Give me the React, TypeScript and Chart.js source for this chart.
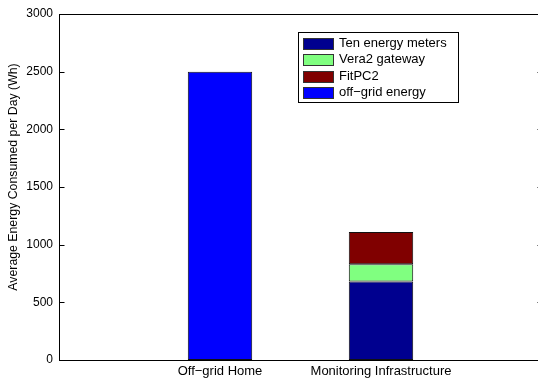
import React, { useEffect, useRef } from "react";
import { Chart, registerables } from "chart.js";

Chart.register(...registerables);

const categories = ["", "Off\u2212grid Home", "Monitoring Infrastructure", ""];
const tenEnergyMeters = [null, null, 680, null];
const vera2Gateway = [null, null, 150, null];
const fitPC2 = [null, null, 280, null];
const offGridEnergy = [null, 2500, null, null];
const yTicks = [0, 500, 1000, 1500, 2000, 2500, 3000];
const yTitle = "Average Energy Consumed per Day (Wh)";

const seriesNames = ["Ten energy meters", "Vera2 gateway", "FitPC2", "off\u2212grid energy"];
const seriesColors = ["#00008F", "#80FF80", "#800000", "#0000FF"];

const FONT = "'Liberation Sans', Arial, Helvetica, sans-serif";

const framePlugin = {
  id: "frame",
  afterDraw(chart: any) {
    const { ctx, chartArea } = chart;
    ctx.save();
    ctx.strokeStyle = "#000";
    ctx.lineWidth = 1;
    const l = Math.round(chartArea.left) + 0.5;
    const t = Math.round(chartArea.top) + 0.5;
    const r = Math.round(chartArea.right) + 0.5;
    const b = Math.round(chartArea.bottom) + 0.5;
    ctx.strokeRect(l, t, r - l, b - t);
    const ys = chart.scales.y;
    yTicks.forEach((v) => {
      const py = Math.round(ys.getPixelForValue(v)) + 0.5;
      ctx.beginPath();
      ctx.moveTo(l, py);
      ctx.lineTo(l + 5, py);
      ctx.moveTo(r, py);
      ctx.lineTo(r - 5, py);
      ctx.stroke();
    });
    // y axis title
    ctx.save();
    ctx.translate(14, 177);
    ctx.rotate(-Math.PI / 2);
    ctx.font = "12.3px " + FONT;
    ctx.fillStyle = "#000";
    ctx.textAlign = "center";
    ctx.textBaseline = "middle";
    ctx.fillText(yTitle, 0, 0);
    ctx.restore();
    // legend
    const lx = 298, ly = 32, lw = 160, lh = 70;
    ctx.fillStyle = "#fff";
    ctx.fillRect(lx + 0.5, ly + 0.5, lw, lh);
    ctx.strokeRect(lx + 0.5, ly + 0.5, lw, lh);
    ctx.font = "13px " + FONT;
    ctx.textBaseline = "middle";
    chart.data.datasets.forEach((ds: any, i: number) => {
      const cy = ly + 11 + i * 16.3;
      ctx.fillStyle = ds.backgroundColor;
      ctx.fillRect(lx + 5.5, Math.round(cy - 5) + 0.5, 30, 11);
      ctx.strokeStyle = "#333";
      ctx.strokeRect(lx + 5.5, Math.round(cy - 5) + 0.5, 30, 11);
      ctx.fillStyle = "#000";
      ctx.fillText(ds.label, lx + 41, cy + 0.5);
    });
    ctx.restore();
  },
};

export default function App() {
  const ref = useRef<HTMLCanvasElement>(null);
  useEffect(() => {
    const data = [tenEnergyMeters, vera2Gateway, fitPC2, offGridEnergy];
    const chart = new Chart(ref.current!, {
      type: "bar",
      data: {
        labels: categories,
        datasets: data.map((d, i) => ({
          label: seriesNames[i],
          data: d,
          backgroundColor: seriesColors[i],
          borderColor: "#111",
          borderWidth: 1,
          borderSkipped: false,
          categoryPercentage: 0.8,
          barPercentage: 0.5,
        })),
      },
      options: {
        animation: false,
        responsive: false,
        maintainAspectRatio: false,
        layout: { padding: { left: 0, top: 14, right: 4, bottom: 0 } },
        plugins: { legend: { display: false }, tooltip: { enabled: false } },
        scales: {
          x: {
            stacked: true,
            offset: false,
            grid: { display: false, drawTicks: false },
            border: { display: false },
            ticks: {
              color: "#000",
              font: { family: FONT, size: 13 },
              padding: 4,
              maxRotation: 0,
              autoSkip: false,
            },
            afterFit: (s: any) => {
              s.height = 19;
            },
          },
          y: {
            stacked: true,
            min: 0,
            max: 3000,
            grid: { display: false, drawTicks: false },
            border: { display: false },
            afterBuildTicks: (s: any) => {
              s.ticks = yTicks.map((v) => ({ value: v }));
            },
            ticks: {
              color: "#000",
              font: { family: FONT, size: 12 },
              padding: 6,
              callback: (v: any) => String(v),
            },
            title: { display: false },
            afterFit: (s: any) => {
              s.width = 59;
            },
          },
        },
      },
      plugins: [framePlugin],
    });
    return () => chart.destroy();
  }, []);
  return (
    <div style={{ position: "fixed", left: 0, top: 0, width: 538, height: 379, overflow: "hidden", background: "#fff" }}>
      <canvas ref={ref} width={546} height={379} style={{ width: 546, height: 379, display: "block" }} />
    </div>
  );
}
